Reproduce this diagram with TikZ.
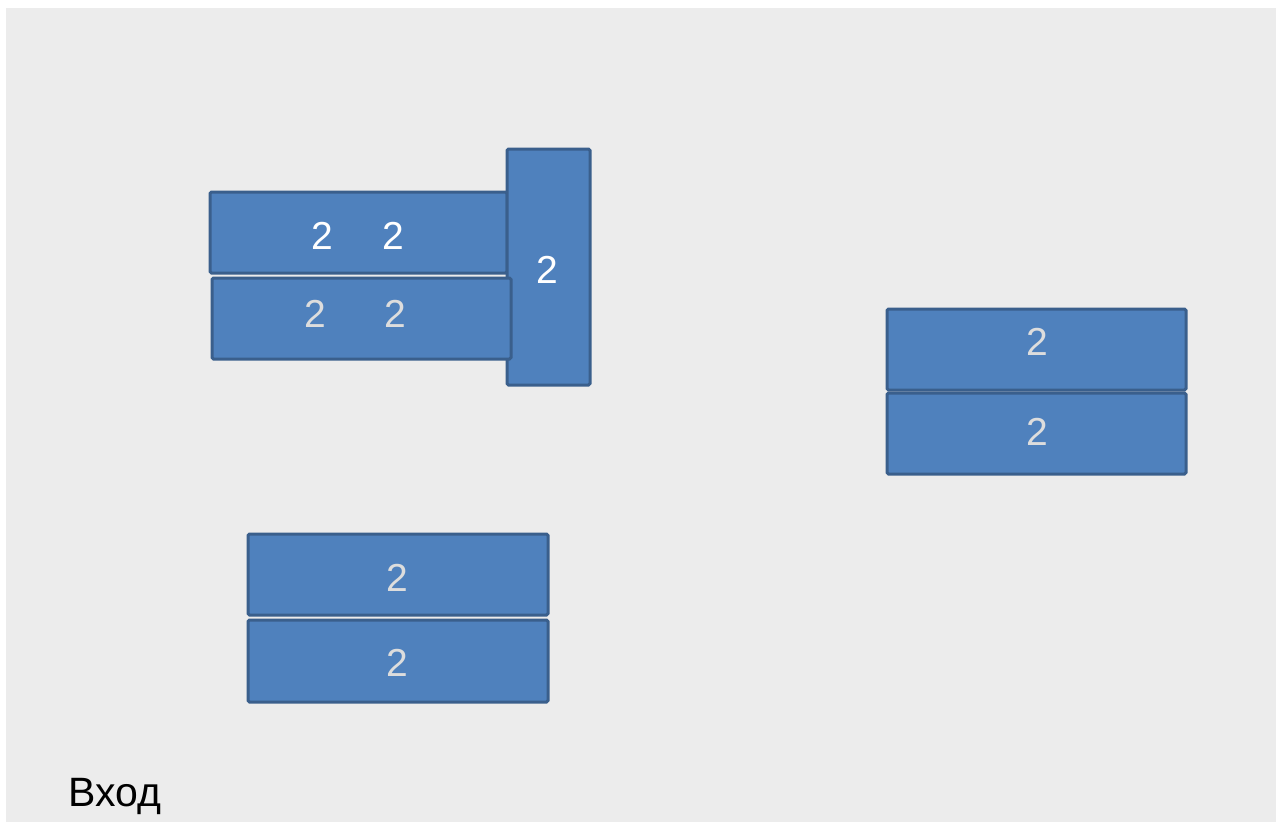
\documentclass[tikz,border=0pt]{standalone}
\usepackage{fontspec}
\setmainfont{Liberation Sans}
\definecolor{boxfill}{HTML}{4F81BD}
\definecolor{boxline}{HTML}{3A5F8C}
\definecolor{bg}{HTML}{ECECEC}
\definecolor{softwhite}{HTML}{DDDDDD}
\tikzset{
  blk/.style={draw=boxline, fill=boxfill, line width=3pt, rounded corners=1.5pt, inner sep=0pt},
  num/.style={text=white, font=\fontsize{39}{41}\selectfont, inner sep=0pt},
  numgrey/.style={num, text=softwhite},
  lbl/.style={text=black, font=\fontsize{41}{44}\selectfont, inner sep=0pt, anchor=west}
}
\begin{document}
\begin{tikzpicture}[x=1pt,y=-1pt]
\useasboundingbox (0,0) rectangle (1276,825);
\fill[white] (0,0) rectangle (1276,825);
\fill[bg] (6,8) rectangle (1276,822);
% top-left group
\node[blk, minimum width=297pt, minimum height=81pt] (a1) at (358.5,232.5) {};
\node[blk, minimum width=83pt, minimum height=236pt] (v) at (548.5,267) {};
\node[blk, minimum width=299pt, minimum height=81pt] (a2) at (361.5,318.5) {};
\node[num] (a1l) at (322,236) {2};
\node[num] (a1r) at (393,236) {2};
\node[numgrey] (a2l) at (315,314) {2};
\node[numgrey] (a2r) at (395,314) {2};
\node[num] (vt) at (547,270) {2};
% right group
\node[blk, minimum width=299pt, minimum height=81pt] (r1) at (1036.5,349.5) {};
\node[blk, minimum width=299pt, minimum height=81pt] (r2) at (1036.5,433.5) {};
\node[numgrey] (r1t) at (1037,342) {2};
\node[numgrey] (r2t) at (1037,432) {2};
% bottom group
\node[blk, minimum width=300pt, minimum height=81pt] (b1) at (398,574.5) {};
\node[blk, minimum width=300pt, minimum height=82pt] (b2) at (398,661) {};
\node[numgrey] (b1t) at (397,578) {2};
\node[numgrey] (b2t) at (397,663) {2};
% label
\node[lbl] (entry) at (68,796) {Вход};
\end{tikzpicture}
\end{document}
